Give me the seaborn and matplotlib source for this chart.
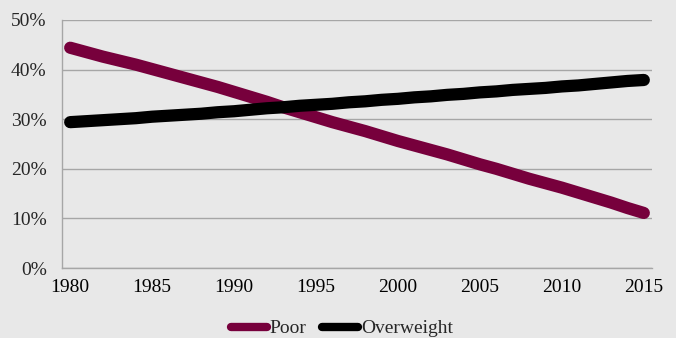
import numpy as np
import pandas as pd
import matplotlib
matplotlib.use('Agg')
import matplotlib.pyplot as plt
from matplotlib.ticker import FixedLocator, PercentFormatter
import seaborn as sns

# data (share of population, %)
years = list(range(1980, 2016))
poor = [44.4, 43.5, 42.6, 41.8, 41.0, 40.1, 39.2, 38.3, 37.4, 36.5,
        35.5, 34.5, 33.5, 32.4, 31.4, 30.4, 29.4, 28.5, 27.6, 26.6,
        25.6, 24.7, 23.8, 22.9, 21.9, 20.9, 20.0, 19.0, 18.0, 17.1,
        16.2, 15.2, 14.2, 13.2, 12.1, 11.1]
overweight = [29.4, 29.6, 29.8, 30.0, 30.2, 30.5, 30.7, 30.9, 31.1, 31.4,
              31.6, 31.9, 32.2, 32.4, 32.7, 32.9, 33.1, 33.4, 33.6, 33.9,
              34.1, 34.4, 34.6, 34.9, 35.1, 35.4, 35.6, 35.9, 36.1, 36.3,
              36.6, 36.8, 37.1, 37.4, 37.7, 37.9]
series_names = ['Poor', 'Overweight']
colors = ['#77003c', '#000000']

df = pd.DataFrame({
    'year': years * 2,
    'value': poor + overweight,
    'series': ['Poor'] * len(years) + ['Overweight'] * len(years),
})

bg = '#e8e8e8'
sns.set_style('white', {'axes.facecolor': bg, 'figure.facecolor': bg})
plt.rcParams['font.family'] = ['Liberation Serif', 'DejaVu Serif']

fig = plt.figure(figsize=(6.76, 3.38), dpi=100)
ax = fig.add_axes([0.0917, 0.207, 0.8728, 0.734])

sns.lineplot(data=df, x='year', y='value', hue='series', hue_order=series_names,
             palette=colors, linewidth=8.8, ax=ax, legend=True)
for line in ax.get_lines():
    line.set_solid_capstyle('round')
    line.set_solid_joinstyle('round')

ax.set_xlim(1979.5, 2015.5)
ax.set_ylim(0, 50)
ax.set_xlabel('')
ax.set_ylabel('')

grid_c = '#a6a6a6'
ax.yaxis.set_major_locator(FixedLocator(np.arange(0, 51, 10)))
ax.yaxis.set_major_formatter(PercentFormatter(decimals=0))
ax.grid(axis='y', color=grid_c, linewidth=1.0)
ax.set_axisbelow(True)

ax.set_xticks(range(1980, 2016, 5))
ax.xaxis.set_minor_locator(FixedLocator(np.arange(1979.5, 2016, 1)))
ax.tick_params(axis='x', which='major', length=0, pad=8, labelsize=14, colors='black')
ax.tick_params(axis='x', which='minor', length=5, width=1, color=grid_c, direction='out')
ax.tick_params(axis='y', which='major', length=5, width=1, color=grid_c, pad=6,
               labelsize=14, direction='out')

for side in ['top', 'right']:
    ax.spines[side].set_visible(False)
for side in ['left', 'bottom']:
    ax.spines[side].set_color(grid_c)
    ax.spines[side].set_linewidth(1.0)

handles, labels = ax.get_legend_handles_labels()
ax.legend_.remove()
leg = fig.legend(handles, labels, loc='center', bbox_to_anchor=(0.506, 0.028), ncol=2,
                 frameon=False, fontsize=14, handlelength=1.85, handletextpad=0.15,
                 columnspacing=0.8, borderaxespad=0)
for h in leg.get_lines():
    h.set_linewidth(6)
    h.set_solid_capstyle('round')

fig.savefig('out.png', dpi=100, facecolor=bg)
